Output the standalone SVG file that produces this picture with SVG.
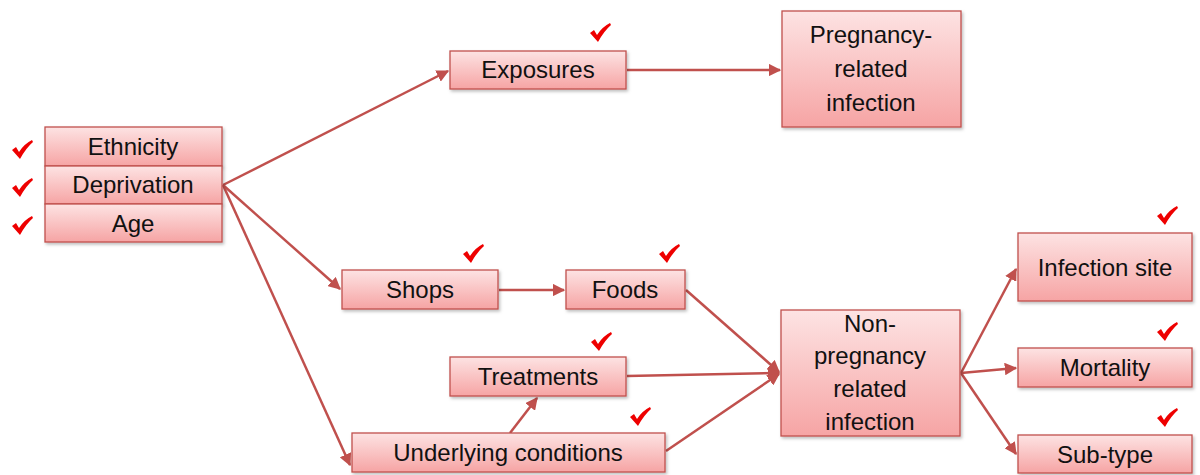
<svg xmlns="http://www.w3.org/2000/svg" width="1200" height="475" viewBox="0 0 1200 475">
<style>
.box{fill:url(#g);stroke:#c0504d;stroke-width:1.3;filter:url(#sh)}
.t{font-family:"Liberation Sans",Arial,sans-serif;font-size:24px;fill:#111;text-anchor:middle}
.c{fill:none;stroke:#c0504d;stroke-width:2.5;marker-end:url(#ah)}
.ck{fill:#ee0000}
</style>
<defs>
<linearGradient id="g" x1="0" y1="0" x2="0" y2="1">
<stop offset="0" stop-color="#fde3e3"/>
<stop offset="1" stop-color="#f6a4a4"/>
</linearGradient>
<filter id="sh" x="-10%" y="-10%" width="130%" height="130%">
<feDropShadow dx="1.5" dy="2" stdDeviation="1.5" flood-color="#000" flood-opacity="0.25"/>
</filter>
<marker id="ah" viewBox="0 0 10 10" refX="9" refY="5" markerWidth="5" markerHeight="5" orient="auto" markerUnits="strokeWidth">
<path d="M0,0 L10,5 L0,10 Z" fill="#c0504d"/>
</marker>
<path id="check" d="M0,10 L4,7 L7,12 Q12,4 20,0 L21,2 Q14,8 8,19 Z"/>
</defs>
<g id="connectors">
<line class="c" x1="223" y1="185" x2="448" y2="71"/>
<line class="c" x1="223" y1="185" x2="340" y2="289"/>
<line class="c" x1="223" y1="185" x2="350" y2="465"/>
<line class="c" x1="627" y1="70" x2="780" y2="70"/>
<line class="c" x1="499" y1="290" x2="564" y2="290"/>
<line class="c" x1="686" y1="290" x2="779" y2="372"/>
<line class="c" x1="627" y1="376" x2="779" y2="373"/>
<line class="c" x1="666" y1="451" x2="779" y2="374"/>
<line class="c" x1="510" y1="433" x2="537" y2="398"/>
<line class="c" x1="961" y1="373" x2="1016" y2="269"/>
<line class="c" x1="961" y1="373" x2="1016" y2="368"/>
<line class="c" x1="961" y1="373" x2="1016" y2="454"/>
</g>
<g id="ethnicity"><rect class="box" x="45" y="127" width="177" height="39"/><text class="t" x="133" y="155">Ethnicity</text><use href="#check" class="ck" x="12" y="140"/></g>
<g id="deprivation"><rect class="box" x="45" y="166" width="177" height="38"/><text class="t" x="133" y="193">Deprivation</text><use href="#check" class="ck" x="12" y="178"/></g>
<g id="age"><rect class="box" x="45" y="204" width="177" height="38"/><text class="t" x="133" y="232">Age</text><use href="#check" class="ck" x="12" y="216"/></g>
<g id="exposures"><rect class="box" x="450" y="51" width="176" height="38"/><text class="t" x="538" y="78">Exposures</text><use href="#check" class="ck" x="590" y="23"/></g>
<g id="pregnancy"><rect class="box" x="782" y="11" width="179" height="116"/><text class="t" x="871" y="43">Pregnancy-</text><text class="t" x="871" y="77">related</text><text class="t" x="871" y="111">infection</text></g>
<g id="shops"><rect class="box" x="342" y="270" width="156" height="39"/><text class="t" x="420" y="298">Shops</text><use href="#check" class="ck" x="463" y="244"/></g>
<g id="foods"><rect class="box" x="566" y="270" width="119" height="39"/><text class="t" x="625" y="298">Foods</text><use href="#check" class="ck" x="659" y="244"/></g>
<g id="treatments"><rect class="box" x="450" y="357" width="176" height="39"/><text class="t" x="538" y="385">Treatments</text><use href="#check" class="ck" x="591" y="332"/></g>
<g id="underlying"><rect class="box" x="352" y="433" width="313" height="39"/><text class="t" x="508" y="461">Underlying conditions</text><use href="#check" class="ck" x="630" y="407"/></g>
<g id="nonpregnancy"><rect class="box" x="781" y="310" width="179" height="126"/><text class="t" x="870" y="332">Non-</text><text class="t" x="870" y="364">pregnancy</text><text class="t" x="870" y="397">related</text><text class="t" x="870" y="430">infection</text></g>
<g id="infectionsite"><rect class="box" x="1018" y="233" width="174" height="68"/><text class="t" x="1105" y="276">Infection site</text><use href="#check" class="ck" x="1157" y="206"/></g>
<g id="mortality"><rect class="box" x="1018" y="348" width="174" height="39"/><text class="t" x="1105" y="376">Mortality</text><use href="#check" class="ck" x="1157" y="322"/></g>
<g id="subtype"><rect class="box" x="1018" y="435" width="174" height="38"/><text class="t" x="1105" y="463">Sub-type</text><use href="#check" class="ck" x="1157" y="408"/></g>
</svg>
